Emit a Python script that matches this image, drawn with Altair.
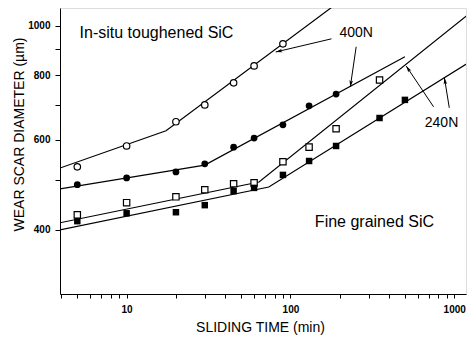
import math
import altair as alt
import pandas as pd

# ---------------- data ----------------
# measured points (sliding time in min, wear scar diameter in µm)
t_open_circ = [5, 10, 20, 30, 45, 60, 90]
d_open_circ = [531, 583, 650, 701, 774, 835, 922]
t_fill_circ = [5, 10, 20, 30, 45, 60, 90, 130, 190]
d_fill_circ = [490, 505, 519, 538, 580, 604, 641, 698, 736]
t_open_sq = [5, 10, 20, 30, 45, 60, 90, 130, 190, 350]
d_open_sq = [428, 452, 464, 479, 492, 494, 543, 580, 630, 784]
t_fill_sq = [5, 10, 20, 30, 45, 60, 90, 130, 190, 350, 500]
d_fill_sq = [416, 431, 433, 447, 476, 483, 512, 545, 583, 661, 717]

# fitted straight-line segments (vertices)
fit_open_circ_t = [3.92, 17.4, 400]
fit_open_circ_d = [528, 624, 1316]
fit_fill_circ_t = [3.92, 30, 500]
fit_fill_circ_d = [481, 535, 870]
fit_open_sq_t = [3.92, 64.3, 1300]
fit_open_sq_d = [413, 496, 1070]
fit_fill_sq_t = [3.92, 73.8, 1300]
fit_fill_sq_d = [400, 485, 858]

# annotations
label_texts = ["In-situ toughened SiC", "400N", "240N", "Fine grained SiC"]
label_t = [5.16, 199, 661, 141]
label_d = [968, 968, 647, 415]
label_size = [16, 14, 14, 16]

arrow_tail_t = [178, 252, 748, 933]
arrow_tail_d = [943, 910, 695, 692]
arrow_head_t = [81.3, 232, 509, 871]
arrow_head_d = [889, 760, 835, 792]

x_ticks = [4, 5, 6, 7, 8, 9, 10, 20, 30, 40, 50, 60, 70, 80, 90,
           100, 200, 300, 400, 500, 600, 700, 800, 900, 1000]
y_ticks = [400, 500, 600, 700, 800, 900, 1000]

# ---------------- layout ----------------
W, H = 406, 286
X_DOM = [3.92, 1180]
Y_DOM = [300, 1083]
FONT = "Liberation Sans"

xs = alt.Scale(type="log", domain=X_DOM, nice=False)
ys = alt.Scale(type="log", domain=Y_DOM, nice=False)


def px(t, d):
    lx0, lx1 = math.log10(X_DOM[0]), math.log10(X_DOM[1])
    ly0, ly1 = math.log10(Y_DOM[0]), math.log10(Y_DOM[1])
    return (W * (math.log10(t) - lx0) / (lx1 - lx0),
            H * (ly1 - math.log10(d)) / (ly1 - ly0))


pts = pd.concat([
    pd.DataFrame({"t": t_open_circ, "d": d_open_circ, "s": "oc"}),
    pd.DataFrame({"t": t_fill_circ, "d": d_fill_circ, "s": "fc"}),
    pd.DataFrame({"t": t_open_sq, "d": d_open_sq, "s": "os"}),
    pd.DataFrame({"t": t_fill_sq, "d": d_fill_sq, "s": "fs"}),
])

fits = []
for name, tt, dd in [("oc", fit_open_circ_t, fit_open_circ_d),
                     ("fc", fit_fill_circ_t, fit_fill_circ_d),
                     ("os", fit_open_sq_t, fit_open_sq_d),
                     ("fs", fit_fill_sq_t, fit_fill_sq_d)]:
    for i, (a, b) in enumerate(zip(tt, dd)):
        fits.append({"t": a, "d": b, "s": name, "o": i})
fits = pd.DataFrame(fits)

arrows = []
for tt0, dd0, tt1, dd1 in zip(arrow_tail_t, arrow_tail_d, arrow_head_t, arrow_head_d):
    x0, y0 = px(tt0, dd0)
    x1, y1 = px(tt1, dd1)
    ang = math.degrees(math.atan2(x1 - x0, -(y1 - y0))) % 360
    arrows.append({"t0": tt0, "d0": dd0, "t1": tt1, "d1": dd1, "ang": ang})
arrows = pd.DataFrame(arrows)

labels = pd.DataFrame({"txt": label_texts, "t": label_t, "d": label_d, "fs": label_size})

x_axis = alt.Axis(
    values=x_ticks,
    labelExpr="(datum.value==10||datum.value==100||datum.value==1000) ? format(datum.value,'d') : ''",
    tickSize=4, labelPadding=6, labelFontSize=10, labelFontWeight="bold",
    labelFont=FONT, labelColor="black", tickColor="black", domainColor="black",
    grid=False, title="SLIDING TIME (min)", titleFont=FONT, titleFontSize=14,
    titleFontWeight="normal", titleColor="black", titleX=200, titleY=33,
    titleBaseline="middle", titleAlign="center")
y_axis = alt.Axis(
    values=y_ticks,
    labelExpr="(datum.value==400||datum.value==600||datum.value==800||datum.value==1000) ? format(datum.value,'d') : ''",
    tickSize=5, labelPadding=5, labelFontSize=10, labelFontWeight="bold",
    labelFont=FONT, labelColor="black", tickColor="black", domainColor="black",
    grid=False, title="WEAR SCAR DIAMETER (µm)", titleFont=FONT, titleFontSize=14,
    titleFontWeight="normal", titleColor="black", titleX=-41, titleY=126,
    titleBaseline="middle", titleAlign="center", titleAngle=270)

base_x = alt.X("t:Q", scale=xs, axis=x_axis)
base_y = alt.Y("d:Q", scale=ys, axis=y_axis)

lines = alt.Chart(fits).mark_line(color="black", strokeWidth=1.2, clip=True).encode(
    x=base_x, y=base_y, detail="s:N", order="o:Q")

open_c = alt.Chart(pts[pts.s == "oc"]).mark_point(
    shape="circle", filled=False, stroke="black", strokeWidth=1.2, size=42, opacity=1, fill="white").encode(
    x="t:Q", y="d:Q")
fill_c = alt.Chart(pts[pts.s == "fc"]).mark_point(
    shape="circle", filled=True, color="black", size=46, opacity=1).encode(x="t:Q", y="d:Q")
open_s = alt.Chart(pts[pts.s == "os"]).mark_point(
    shape="square", filled=False, stroke="black", strokeWidth=1.2, size=40, opacity=1, fill="white").encode(
    x="t:Q", y="d:Q")
fill_s = alt.Chart(pts[pts.s == "fs"]).mark_point(
    shape="square", filled=True, color="black", size=42, opacity=1).encode(x="t:Q", y="d:Q")

shafts = alt.Chart(arrows).mark_rule(color="black", strokeWidth=1).encode(
    x="t0:Q", y="d0:Q", x2="t1:Q", y2="d1:Q")
heads = alt.Chart(arrows).mark_point(
    shape="M0,0L0.6,2.2L0,1.7L-0.6,2.2Z", filled=True, color="black", size=36, opacity=1).encode(
    x="t1:Q", y="d1:Q", angle=alt.Angle("ang:Q", scale=None))

texts = alt.Chart(labels).mark_text(align="left", baseline="middle", font=FONT, color="black").encode(
    x="t:Q", y="d:Q", text="txt:N", size=alt.Size("fs:Q", scale=None))

chart = alt.layer(lines, shafts, heads, open_c, fill_c, open_s, fill_s, texts).properties(
    width=W, height=H,
    autosize=alt.AutoSizeParams(type="none"),
    padding={"left": 52, "top": 0, "right": 1, "bottom": 41},
).configure_view(stroke="black", strokeWidth=1).configure(background="white")

chart.save("out.html", embed_options={"renderer": "svg", "actions": False})
